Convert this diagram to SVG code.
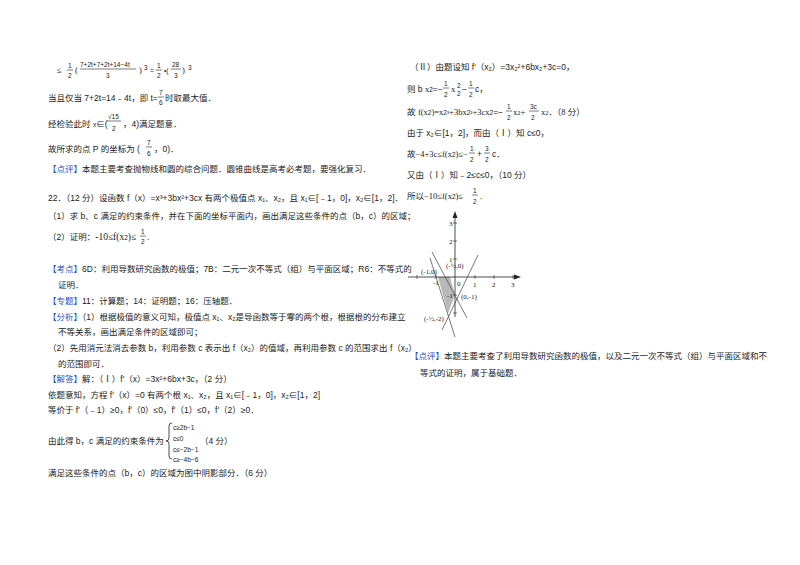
<svg xmlns="http://www.w3.org/2000/svg" width="800" height="565" viewBox="0 0 800 565">
<style>
text{font-family:"Liberation Sans","Noto Sans CJK SC",sans-serif;font-size:8.5px;fill:#222}
.s{font-size:6.5px}
.m{font-family:"Liberation Serif","Noto Sans CJK SC",serif}
.b{fill:#1f4fd0}
.ax{stroke:#222;stroke-width:0.8;fill:none}
.ln{stroke:#555;stroke-width:0.8}
.g{font-family:"Liberation Serif",serif;font-size:7px}
.f{stroke:#222;stroke-width:0.6}
</style>
<rect width="800" height="565" fill="#fff"/>
<g id="left">
<text x="57" y="73" class="m">≤</text>
<text x="68" y="68" class="s">1</text><line x1="67" y1="70" x2="73" y2="70" class="f"/><text x="68" y="78" class="s">2</text>
<text x="75" y="73" class="m">(</text>
<text x="80" y="67" class="s">7+2t+7+2t+14−4t</text><line x1="80" y1="69" x2="136" y2="69" class="f"/><text x="106" y="78" class="s">3</text>
<text x="139" y="73" class="m">)</text><text x="144" y="70" class="s">3</text>
<text x="150" y="73" class="s">=</text>
<text x="157" y="68" class="s">1</text><line x1="156" y1="70" x2="162" y2="70" class="f"/><text x="157" y="78" class="s">2</text>
<text x="164" y="73" class="s">•(</text><text x="172" y="67" class="s">28</text><line x1="171" y1="69" x2="181" y2="69" class="f"/><text x="174" y="78" class="s">3</text><text x="182" y="73" class="m">)</text><text x="188" y="70" class="s">3</text>
<text x="48" y="101">当且仅当 7+2t=14﹣4t，即 t=</text>
<text x="159" y="95" class="s">7</text><line x1="158" y1="97" x2="164" y2="97" class="f"/><text x="159" y="105" class="s">6</text>
<text x="165" y="101">时取最大值．</text>
<text x="48" y="127">经检验此时 <tspan class="s">x</tspan>∈(</text>
<text x="108" y="119" class="s">√15</text><line x1="107" y1="121" x2="121" y2="121" class="f"/><text x="112" y="131" class="s">2</text>
<text x="123" y="127">，4)满足题意．</text>
<text x="48" y="152">故所求的点 P 的坐标为 (</text>
<text x="147" y="145" class="s">7</text><line x1="146" y1="147" x2="152" y2="147" class="f"/><text x="147" y="156" class="s">6</text>
<text x="154" y="152">，0)．</text>
<text x="48" y="172"><tspan class="b">【点评】</tspan>本题主要考查抛物线和圆的综合问题．圆锥曲线是高考必考题，要强化复习．</text>
<text x="48" y="201">22．（12 分）设函数 f（x）=x³+3bx²+3cx 有两个极值点 x₁、x₂，且 x₁∈[﹣1，0]，x₂∈[1，2]．</text>
<text x="48" y="219">（1）求 b、c 满足的约束条件，并在下面的坐标平面内，画出满足这些条件的点（b，c）的区域；</text>
<text x="48" y="240">（2）证明：<tspan class="m" font-size="9.5">-10≤f(x</tspan><tspan class="s">2</tspan><tspan class="m" font-size="9.5">)≤</tspan></text>
<text x="141" y="234" class="s">1</text><line x1="140" y1="236" x2="146" y2="236" class="f"/><text x="141" y="244" class="s">2</text><text x="147" y="240">.</text>
<text x="48" y="272"><tspan class="b">【考点】</tspan>6D：利用导数研究函数的极值；7B：二元一次不等式（组）与平面区域；R6：不等式的</text>
<text x="58" y="288">证明．</text>
<text x="48" y="304"><tspan class="b">【专题】</tspan>11：计算题；14：证明题；16：压轴题．</text>
<text x="48" y="320"><tspan class="b">【分析】</tspan>（1）根据极值的意义可知，极值点 x₁、x₂是导函数等于零的两个根，根据根的分布建立</text>
<text x="58" y="335">不等关系，画出满足条件的区域即可；</text>
<text x="48" y="351">（2）先用消元法消去参数 b，利用参数 c 表示出 f（x₂）的值域，再利用参数 c 的范围求出 f（x₂）</text>
<text x="58" y="367">的范围即可．</text>
<text x="48" y="382"><tspan class="b">【解答】</tspan>解：（Ⅰ）f′（x）=3x²+6bx+3c，（2 分）</text>
<text x="48" y="398">依题意知，方程 f′（x）=0 有两个根 x₁、x₂，且 x₁∈[﹣1，0]，x₂∈[1，2]</text>
<text x="48" y="413">等价于 f′（﹣1）≥0，f′（0）≤0，f′（1）≤0，f′（2）≥0．</text>
<text x="48" y="444">由此得 b，c 满足的约束条件为</text>
<path d="M172,423 q-3,0 -3,3 v12 q0,3 -3,3 q3,0 3,3 v12 q0,3 3,3" class="ax"/>
<text x="173" y="430" class="s">c≥2b−1</text>
<text x="173" y="441" class="s">c≤0</text>
<text x="173" y="452" class="s">c≤−2b−1</text>
<text x="173" y="462" class="s">c≥−4b−6</text>
<text x="200" y="444">（4 分）</text>
<text x="48" y="476">满足这些条件的点（b，c）的区域为图中阴影部分．（6 分）</text>
</g>
<g id="right">
<text x="410" y="70">（Ⅱ）由题设知 f′（x₂）=3x₂²+6bx₂+3c=0，</text>
<text x="407" y="92">则 b <tspan class="m">x</tspan><tspan class="s">2</tspan>=−</text>
<text x="444" y="86" class="s">1</text><line x1="443" y1="88" x2="449" y2="88" class="f"/><text x="444" y="97" class="s">2</text>
<text x="451" y="92" class="m">x</text><text x="457" y="88" class="s">2</text><text x="457" y="96" class="s">2</text><text x="462" y="92">−</text>
<text x="469" y="86" class="s">1</text><line x1="468" y1="88" x2="474" y2="88" class="f"/><text x="469" y="97" class="s">2</text><text x="475" y="92">c，</text>
<text x="407" y="115">故 <tspan class="m">f(x</tspan><tspan class="s">2</tspan><tspan class="m">)=x</tspan><tspan class="s">2</tspan><tspan class="s">³</tspan><tspan class="m">+3bx</tspan><tspan class="s">2</tspan><tspan class="s">²</tspan><tspan class="m">+3cx</tspan><tspan class="s">2</tspan>=−</text>
<text x="507" y="109" class="s">1</text><line x1="506" y1="111" x2="512" y2="111" class="f"/><text x="507" y="120" class="s">2</text>
<text x="513" y="115" class="m">x<tspan class="s">2</tspan>+</text>
<text x="530" y="109" class="s">3c</text><line x1="529" y1="111" x2="539" y2="111" class="f"/><text x="531" y="120" class="s">2</text>
<text x="541" y="115" class="m">x<tspan class="s">2</tspan>．（8 分）</text>
<text x="407" y="136">由于 x₂∈[1，2]，而由（Ⅰ）知 c≤0，</text>
<text x="407" y="157">故<tspan class="m">−4+3c≤f(x</tspan><tspan class="s">2</tspan><tspan class="m">)≤−</tspan></text>
<text x="470" y="151" class="s">1</text><line x1="469" y1="153" x2="475" y2="153" class="f"/><text x="470" y="162" class="s">2</text>
<text x="477" y="157">+</text>
<text x="485" y="151" class="s">3</text><line x1="484" y1="153" x2="490" y2="153" class="f"/><text x="485" y="162" class="s">2</text><text x="492" y="157">c．</text>
<text x="407" y="178">又由（Ⅰ）知﹣2≤c≤0，（10 分）</text>
<text x="407" y="199">所以<tspan class="m">−10≤f(x</tspan><tspan class="s">2</tspan><tspan class="m">)≤</tspan></text>
<text x="473" y="193" class="s">1</text><line x1="472" y1="195" x2="478" y2="195" class="f"/><text x="473" y="204" class="s">2</text><text x="480" y="199">.</text>
<text x="410" y="359"><tspan class="b">【点评】</tspan>本题主要考查了利用导数研究函数的极值，以及二元一次不等式（组）与平面区域和不</text>
<text x="420" y="376">等式的证明，属于基础题．</text>
</g>
<g id="graph">
<polygon points="438,277 450,277 455,295 448,313" fill="#b8b8b8"/>
<line x1="408" y1="277" x2="516" y2="277" class="ax"/>
<polygon points="521,277 514,274.5 514,279.5" fill="#222"/>
<line x1="455" y1="317" x2="455" y2="217" class="ax"/>
<polygon points="455,211 452.5,218 457.5,218" fill="#222"/>
<g stroke="#222" stroke-width="0.6">
<line x1="417" y1="275" x2="417" y2="279"/><line x1="436" y1="275" x2="436" y2="279"/><line x1="475" y1="275" x2="475" y2="279"/><line x1="494" y1="275" x2="494" y2="279"/><line x1="513" y1="275" x2="513" y2="279"/>
<line x1="453" y1="223" x2="457" y2="223"/><line x1="453" y1="241" x2="457" y2="241"/><line x1="453" y1="259" x2="457" y2="259"/><line x1="453" y1="295" x2="457" y2="295"/><line x1="453" y1="313" x2="457" y2="313"/>
</g>
<line x1="432" y1="252" x2="467" y2="318" class="ln"/>
<line x1="430" y1="258" x2="455" y2="337" class="ln"/>
<line x1="478" y1="255" x2="442" y2="330" class="ln"/>
<text x="449" y="226" class="g">3</text><text x="449" y="244" class="g">2</text><text x="449" y="262" class="g">1</text>
<text x="473" y="287" class="g">1</text><text x="492" y="287" class="g">2</text><text x="511" y="287" class="g">3</text>
<text x="457" y="286" class="g">0</text>
<text x="433" y="285" class="g">-1</text>
<text x="447" y="298" class="g">-1</text>
<text x="421" y="274" class="g">(-1,0)</text>
<text x="446" y="268" class="g">(-½,0)</text>
<text x="461" y="299" class="g">(0,-1)</text>
<text x="424" y="321" class="g">(-½,-2)</text>
</g>
</svg>
